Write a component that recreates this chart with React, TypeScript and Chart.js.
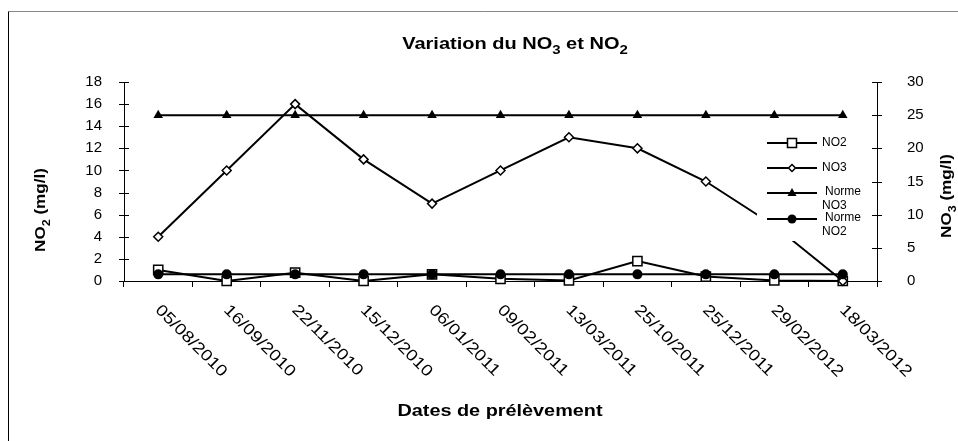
import React, { useEffect, useRef } from 'react';
import { Chart, registerables } from 'chart.js';

Chart.register(...registerables);

const FONT = '"Liberation Sans", Arial, Helvetica, sans-serif';

// ---- data ----
const dates = [
  '05/08/2010', '16/09/2010', '22/11/2010', '15/12/2010', '06/01/2011', '09/02/2011',
  '13/03/2011', '25/10/2011', '25/12/2011', '29/02/2012', '18/03/2012',
];
const no2 = [1.0, 0, 0.75, 0, 0.6, 0.2, 0.05, 1.8, 0.4, 0.05, 0];
const no3 = [4, 10, 16, 11, 7, 10, 13, 12, 9, 5, 0];
const normeNO3 = [25, 25, 25, 25, 25, 25, 25, 25, 25, 25, 25];
const normeNO2 = [0.6, 0.6, 0.6, 0.6, 0.6, 0.6, 0.6, 0.6, 0.6, 0.6, 0.6];
const leftTicks = { min: 0, max: 18, step: 2 };
const rightTicks = { min: 0, max: 30, step: 5 };
const seriesLabels = ['NO2', 'NO3', 'Norme NO3', 'Norme NO2'];

type Part = { t: string; sub?: boolean };

function drawParts(ctx: CanvasRenderingContext2D, parts: Part[], x: number, y: number, size: number, bold: boolean, sx: number) {
  const mainFont = `${bold ? 'bold ' : ''}${size}px ${FONT}`;
  const subFont = `${bold ? 'bold ' : ''}${Math.round(size * 0.72)}px ${FONT}`;
  const widths = parts.map((p) => {
    ctx.font = p.sub ? subFont : mainFont;
    return ctx.measureText(p.t).width;
  });
  const total = widths.reduce((a, b) => a + b, 0);
  ctx.save();
  ctx.translate(x, y);
  ctx.scale(sx, 1);
  let cx = -total / 2;
  ctx.textAlign = 'left';
  ctx.textBaseline = 'alphabetic';
  parts.forEach((p, i) => {
    ctx.font = p.sub ? subFont : mainFont;
    ctx.fillText(p.t, cx, p.sub ? size * 0.3 : 0);
    cx += widths[i];
  });
  ctx.restore();
}

function marker(ctx: CanvasRenderingContext2D, style: string, x: number, y: number) {
  ctx.save();
  ctx.lineWidth = 1.5;
  ctx.strokeStyle = '#000';
  ctx.beginPath();
  if (style === 'rect') {
    ctx.rect(x - 4.5, y - 4.5, 9, 9);
    ctx.fillStyle = '#fff';
    ctx.fill();
    ctx.stroke();
  } else if (style === 'rectRot') {
    ctx.moveTo(x, y - 3.5);
    ctx.lineTo(x + 3.5, y);
    ctx.lineTo(x, y + 3.5);
    ctx.lineTo(x - 3.5, y);
    ctx.closePath();
    ctx.fillStyle = '#fff';
    ctx.fill();
    ctx.stroke();
  } else if (style === 'triangle') {
    ctx.moveTo(x, y - 5);
    ctx.lineTo(x + 4.5, y + 3);
    ctx.lineTo(x - 4.5, y + 3);
    ctx.closePath();
    ctx.fillStyle = '#000';
    ctx.fill();
  } else {
    ctx.arc(x, y, 4.5, 0, Math.PI * 2);
    ctx.fillStyle = '#000';
    ctx.fill();
  }
  ctx.restore();
}

const legendPlugin = {
  id: 'customLegend',
  afterDatasetsDraw(chart: any) {
    const ctx: CanvasRenderingContext2D = chart.ctx;
    ctx.save();
    ctx.fillStyle = '#fff';
    ctx.fillRect(757, 133, 113, 108);
    const rows = [
      { y: 143, style: 'rect' },
      { y: 168, style: 'rectRot' },
      { y: 193, style: 'triangle' },
      { y: 219, style: 'circle' },
    ];
    rows.forEach((r, i) => {
      ctx.strokeStyle = '#000';
      ctx.lineWidth = 2;
      ctx.beginPath();
      ctx.moveTo(767, r.y);
      ctx.lineTo(817, r.y);
      ctx.stroke();
      marker(ctx, r.style, 792, r.y);
      ctx.fillStyle = '#000';
      ctx.font = `12px ${FONT}`;
      ctx.textAlign = 'left';
      ctx.textBaseline = 'middle';
      const words = seriesLabels[i].split(' ');
      if (words.length === 1) {
        ctx.fillText(words[0], 822, r.y);
      } else {
        ctx.fillText(words[0], 825, r.y - 1);
        ctx.fillText(words[1], 822, r.y + 13);
      }
    });
    ctx.restore();
  },
};

const decorPlugin = {
  id: 'decor',
  afterDraw(chart: any) {
    const ctx: CanvasRenderingContext2D = chart.ctx;
    const area = chart.chartArea;
    const x = chart.scales.x;
    const y = chart.scales.y;
    const y1 = chart.scales.y1;
    ctx.save();
    // frame
    ctx.lineWidth = 1;
    ctx.strokeStyle = '#888';
    ctx.beginPath();
    ctx.moveTo(8.5, 11.5);
    ctx.lineTo(958, 11.5);
    ctx.stroke();
    ctx.strokeStyle = '#000';
    ctx.beginPath();
    ctx.moveTo(8.5, 11.5);
    ctx.lineTo(8.5, 441);
    ctx.stroke();

    // y tick marks crossing the axes
    ctx.strokeStyle = '#000';
    ctx.lineWidth = 1;
    y.ticks.forEach((t: any) => {
      const py = Math.round(y.getPixelForValue(t.value)) + 0.5;
      ctx.beginPath();
      ctx.moveTo(area.left - 5, py);
      ctx.lineTo(area.left + 5, py);
      ctx.stroke();
    });
    y1.ticks.forEach((t: any) => {
      const py = Math.round(y1.getPixelForValue(t.value)) + 0.5;
      ctx.beginPath();
      ctx.moveTo(area.right - 5, py);
      ctx.lineTo(area.right + 5, py);
      ctx.stroke();
    });

    // rotated x labels (clockwise)
    ctx.fillStyle = '#000';
    ctx.font = `16px ${FONT}`;
    ctx.textAlign = 'left';
    ctx.textBaseline = 'top';
    dates.forEach((d, i) => {
      const px = x.getPixelForTick(i);
      ctx.save();
      ctx.translate(px + 5, area.bottom + 21);
      ctx.rotate(Math.PI / 4);
      ctx.scale(1.18, 1);
      ctx.fillText(d, 0, 0);
      ctx.restore();
    });

    // title
    drawParts(ctx, [{ t: 'Variation du NO' }, { t: '3', sub: true }, { t: ' et NO' }, { t: '2', sub: true }], 515, 49, 16, true, 1.25);
    // x title
    drawParts(ctx, [{ t: 'Dates de prélèvement' }], 500, 416, 16, true, 1.24);
    // left title
    ctx.save();
    ctx.translate(45, 210);
    ctx.rotate(-Math.PI / 2);
    drawParts(ctx, [{ t: 'NO' }, { t: '2', sub: true }, { t: ' (mg/l)' }], 0, 0, 15, true, 1.14);
    ctx.restore();
    // right title
    ctx.save();
    ctx.translate(951, 196);
    ctx.rotate(-Math.PI / 2);
    drawParts(ctx, [{ t: 'NO' }, { t: '3', sub: true }, { t: ' (mg/l)' }], 0, 0, 15, true, 1.14);
    ctx.restore();
    ctx.restore();
  },
};

export default function App() {
  const ref = useRef<HTMLCanvasElement>(null);
  useEffect(() => {
    if (!ref.current) return;
    const common = {
      borderColor: '#000',
      borderWidth: 2,
      pointBorderColor: '#000',
      pointBorderWidth: 1.5,
      tension: 0,
      fill: false,
      clip: false as any,
    };
    const chart = new Chart(ref.current, {
      type: 'line',
      data: {
        labels: dates,
        datasets: [
          { ...common, label: seriesLabels[0], data: no2, yAxisID: 'y', pointStyle: 'rect', pointRadius: 6.5, pointBackgroundColor: '#fff', order: 3 },
          { ...common, label: seriesLabels[1], data: no3, yAxisID: 'y', pointStyle: 'rectRot', pointRadius: 4.5, pointBackgroundColor: '#fff', order: 2 },
          { ...common, label: seriesLabels[2], data: normeNO3, yAxisID: 'y1', pointStyle: 'triangle', pointRadius: 5.5, pointBackgroundColor: '#000', pointBorderWidth: 0, order: 1 },
          { ...common, label: seriesLabels[3], data: normeNO2, yAxisID: 'y', pointStyle: 'circle', pointRadius: 5, pointBackgroundColor: '#000', pointBorderWidth: 0, order: 0 },
        ],
      },
      options: {
        responsive: false,
        animation: false,
        devicePixelRatio: 1,
        layout: { padding: { top: 82, left: 0, right: 0, bottom: 0 } },
        plugins: { legend: { display: false }, tooltip: { enabled: false }, title: { display: false } },
        scales: {
          x: {
            type: 'category',
            offset: true,
            ticks: { display: false },
            grid: { display: true, drawOnChartArea: false, drawTicks: true, tickLength: 6, offset: true, color: '#000', lineWidth: 1 },
            border: { display: true, color: '#000', width: 1 },
            afterFit: (s: any) => { s.height = 160; },
          },
          y: {
            type: 'linear',
            position: 'left',
            min: leftTicks.min,
            max: leftTicks.max,
            ticks: { stepSize: leftTicks.step, color: '#000', font: { family: FONT, size: 15 }, padding: 14 },
            grid: { display: false },
            border: { display: true, color: '#000', width: 1 },
            afterFit: (s: any) => { s.width = 124; },
          },
          y1: {
            type: 'linear',
            position: 'right',
            min: rightTicks.min,
            max: rightTicks.max,
            ticks: { stepSize: rightTicks.step, color: '#000', font: { family: FONT, size: 15 }, padding: 22 },
            grid: { display: false },
            border: { display: true, color: '#000', width: 1 },
            afterFit: (s: any) => { s.width = 81; },
          },
        },
      } as any,
      plugins: [legendPlugin, decorPlugin],
    });
    return () => chart.destroy();
  }, []);
  return (
    <div style={{ position: 'absolute', left: 0, top: 0, width: 958, height: 441, background: '#fff' }}>
      <canvas ref={ref} width={958} height={441} style={{ display: 'block', width: 958, height: 441 }} />
    </div>
  );
}
